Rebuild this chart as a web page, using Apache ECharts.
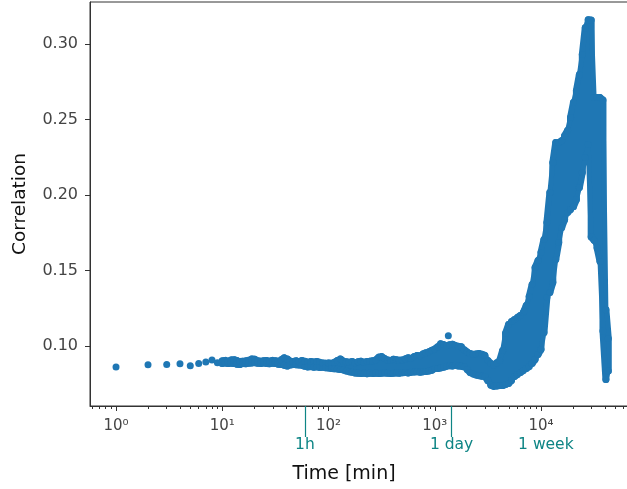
<!DOCTYPE html>
<html>
<head>
<meta charset="utf-8">
<script src="https://cdn.jsdelivr.net/npm/echarts@6/dist/echarts.min.js"></script>
<style>
html,body{margin:0;padding:0;background:#ffffff;}
#chart{width:627px;height:489px;}
</style>
</head>
<body>
<div id="chart"></div>
<script>
// ---------------- data ----------------
// isolated early points (time in minutes, correlation)
const earlyTimes = [1, 2, 3, 4, 5, 6, 7, 8, 9];
const earlyCorr  = [0.0862, 0.0876, 0.0878, 0.0882, 0.0869, 0.0884, 0.0895, 0.0908, 0.0889];

// dense part: for each time column, lowest and highest point of the scatter cloud
const bandTimes = [
  10, 10.66, 11.36, 12.12, 12.92, 13.77, 14.68, 15.65, 16.68, 17.78, 18.96, 20.21,
  21.54, 22.97, 24.48, 26.10, 27.83, 29.67, 31.62, 33.71, 35.94, 38.31, 40.84, 43.54,
  46.42, 49.49, 52.75, 56.23, 59.95, 63.91, 68.13, 72.64, 77.43, 82.54, 87.99, 93.81,
  100, 106.6, 113.6, 121.2, 129.2, 137.7, 146.8, 156.5, 166.8, 177.8, 189.6, 202.1,
  215.4, 229.7, 244.8, 261.0, 278.3, 296.7, 316.2, 337.1, 359.4, 383.1, 408.4, 435.4,
  464.2, 494.9, 527.5, 562.3, 599.5, 639.1, 681.3, 726.4, 774.3, 825.4, 879.9, 938.1,
  1000, 1066, 1136, 1212, 1292, 1377, 1468, 1565, 1668, 1778, 1896, 2021,
  2154, 2297, 2448, 2610, 2783, 2967, 3162, 3371, 3594, 3831, 4084, 4354,
  4642, 4949, 5275, 5623, 5995, 6391, 6813, 7264, 7743, 8254, 8799, 9381,
  10000, 10660, 11360, 12120, 12920, 13770, 14680, 15650, 16680, 17780, 18960, 20210,
  21540, 22970, 24480, 26100, 27830, 29670, 31620, 33710, 35940, 38310, 40840, 43000
];
const bandLow = [
  0.0885, 0.0888, 0.0884, 0.0886, 0.0884, 0.0880, 0.0878, 0.0885, 0.0883, 0.0886, 0.0887, 0.0890,
  0.0886, 0.0884, 0.0887, 0.0885, 0.0883, 0.0886, 0.0884, 0.0880, 0.0878, 0.0872, 0.0868, 0.0874,
  0.0878, 0.0876, 0.0874, 0.0872, 0.0866, 0.0862, 0.0865, 0.0860, 0.0863, 0.0858, 0.0860, 0.0856,
  0.0855, 0.0852, 0.0850, 0.0848, 0.0845, 0.0842, 0.0835, 0.0830, 0.0826, 0.0822, 0.0820, 0.0818,
  0.0820, 0.0817, 0.0820, 0.0818, 0.0820, 0.0818, 0.0820, 0.0822, 0.0820, 0.0818, 0.0820, 0.0822,
  0.0820, 0.0823, 0.0825, 0.0822, 0.0826, 0.0828, 0.0830, 0.0826, 0.0830, 0.0832, 0.0834, 0.0840,
  0.0852, 0.0851, 0.0855, 0.0860, 0.0866, 0.0870, 0.0868, 0.0872, 0.0868, 0.0866, 0.0862, 0.0845,
  0.0825, 0.0815, 0.0808, 0.0804, 0.0800, 0.0798, 0.0770, 0.0740, 0.0733, 0.0736, 0.0738, 0.0738,
  0.0745, 0.0752, 0.0772, 0.0798, 0.0811, 0.0825, 0.0838, 0.0851, 0.0864, 0.0884, 0.0911, 0.0944,
  0.0977, 0.1089, 0.1321, 0.1354, 0.1420, 0.1573, 0.1685, 0.1784, 0.1837, 0.1884, 0.1904, 0.1923,
  0.1970, 0.2049, 0.2149, 0.2248, 0.2334, 0.1722, 0.1700, 0.1650, 0.1560, 0.1100, 0.0778, 0.0835
];
const bandHigh = [
  0.0902, 0.0905, 0.0900, 0.0908, 0.0910, 0.0904, 0.0897, 0.0899, 0.0902, 0.0906, 0.0915, 0.0912,
  0.0903, 0.0900, 0.0902, 0.0904, 0.0900, 0.0905, 0.0902, 0.0900, 0.0910, 0.0922, 0.0915, 0.0900,
  0.0898, 0.0902, 0.0896, 0.0904, 0.0899, 0.0893, 0.0897, 0.0895, 0.0898, 0.0892, 0.0888, 0.0886,
  0.0888, 0.0886, 0.0892, 0.0905, 0.0915, 0.0900, 0.0896, 0.0893, 0.0898, 0.0890, 0.0896, 0.0899,
  0.0893, 0.0897, 0.0900, 0.0903, 0.0908, 0.0926, 0.0930, 0.0918, 0.0908, 0.0905, 0.0912, 0.0910,
  0.0906, 0.0908, 0.0915, 0.0922, 0.0918, 0.0930, 0.0938, 0.0935, 0.0948, 0.0955, 0.0962, 0.0972,
  0.0980, 0.0995, 0.1015, 0.1010, 0.1002, 0.1008, 0.1012, 0.1004, 0.0998, 0.0995, 0.0975, 0.0960,
  0.0950, 0.0945, 0.0948, 0.0950, 0.0945, 0.0938, 0.0905, 0.0885, 0.0875, 0.0890, 0.0905, 0.0970,
  0.1085, 0.1142, 0.1162, 0.1175, 0.1189, 0.1202, 0.1222, 0.1268, 0.1328, 0.1407, 0.1520, 0.1566,
  0.1619, 0.1705, 0.1818, 0.2016, 0.2215, 0.2347, 0.2347, 0.2360, 0.2393, 0.2427, 0.2513, 0.2612,
  0.2691, 0.2797, 0.2930, 0.3108, 0.3161, 0.3158, 0.2645, 0.2645, 0.2645, 0.2629, 0.1240, 0.1050
];

// a few detached points above the cloud
const outlierTimes = [1342, 6966];
const outlierCorr  = [0.1068, 0.1234];

// axis ticks / labels
const yTickValues = [0.10, 0.15, 0.20, 0.25, 0.30];
const xMajorExponents = [0, 1, 2, 3, 4];
const xMajorLabels = ['10\u2070', '10\u00b9', '10\u00b2', '10\u00b3', '10\u2074'];

// time markers under the axis
const markerTimes  = [60, 1440, 10080];
const markerLabels = ['1h', '1 day', '1 week'];
const markerHasLine = [true, true, false];

// ---------------- build chart ----------------
const BLUE = '#1f77b4';
const TEAL = '#0e8585';
const FONT = 'DejaVu Sans';
const XMIN = -0.245, XMAX = 4.866;   // log10(minutes) range of the axes box
const YMIN = 0.0603, YMAX = 0.3278;
const L = Math.log10;

const zig = [];
bandTimes.forEach((t, i) => {
  const lo = [L(t), bandLow[i]], hi = [L(t), bandHigh[i]];
  if (i % 2 === 0) { zig.push(lo, hi); } else { zig.push(hi, lo); }
});
const upperEdge = bandTimes.map((t, i) => [L(t), bandHigh[i]]);
const lowerEdge = bandTimes.map((t, i) => [L(t), bandLow[i]]);
const dots = zig.slice();
earlyTimes.forEach((t, i) => dots.push([L(t), earlyCorr[i]]));
outlierTimes.forEach((t, i) => dots.push([L(t), outlierCorr[i]]));

const minorVals = [];
for (let d = -1; d <= 4; d++) {
  for (let k = 2; k <= 9; k++) {
    const v = d + L(k);
    if (v > XMIN && v < XMAX) minorVals.push(v);
  }
}
const markerVals = markerTimes.map(L);
const markerLineVals = markerVals.filter((v, i) => markerHasLine[i]);

const baseX = {
  type: 'value', min: XMIN, max: XMAX, position: 'bottom', offset: 0,
  splitLine: { show: false }
};

const lineSeries = (data, width) => ({
  type: 'line', xAxisIndex: 0, data: data,
  showSymbol: false, symbol: 'none', smooth: false,
  lineStyle: { color: BLUE, width: width, join: 'round', cap: 'round' },
  silent: true, z: 2
});

const chart = echarts.init(document.getElementById('chart'), null, { renderer: 'canvas' });
chart.setOption({
  animation: false,
  backgroundColor: '#ffffff',
  grid: {
    left: 90, right: -6, top: 2, bottom: 83,
    show: true, borderColor: '#333333', borderWidth: 1,
    containLabel: false, outerBoundsMode: 'none'
  },
  xAxis: [
    Object.assign({}, baseX, {
      axisLine: { show: true, onZero: false, lineStyle: { color: '#333333', width: 1 } },
      axisTick: { show: true, customValues: xMajorExponents, length: 5, lineStyle: { color: '#333333', width: 1 } },
      axisLabel: {
        show: true, customValues: xMajorExponents, margin: 13,
        fontFamily: FONT, fontSize: 15, color: '#444444',
        formatter: v => xMajorLabels[Math.round(v)]
      },
      name: 'Time [min]', nameLocation: 'middle', nameGap: 59,
      nameTextStyle: { fontFamily: FONT, fontSize: 19, color: '#111111', padding: [0, 35, 0, 0] }
    }),
    Object.assign({}, baseX, {
      axisLine: { show: false, onZero: false },
      axisTick: { show: true, customValues: minorVals, length: 3, lineStyle: { color: '#333333', width: 1 } },
      axisLabel: { show: false }
    }),
    Object.assign({}, baseX, {
      axisLine: { show: false, onZero: false },
      axisTick: { show: true, customValues: markerLineVals, length: 31, lineStyle: { color: TEAL, width: 1.2 } },
      axisLabel: {
        show: true, customValues: markerVals, margin: 31,
        fontFamily: FONT, fontSize: 15.5, color: TEAL,
        formatter: v => {
          const i = markerVals.findIndex(m => Math.abs(m - v) < 1e-6);
          if (i < 0) return '';
          return i === 2 ? '{w|' + markerLabels[i] + '}' : markerLabels[i];
        },
        rich: { w: { fontFamily: FONT, fontSize: 15.5, color: TEAL, padding: [0, 0, 0, 9] } }
      }
    })
  ],
  yAxis: {
    type: 'value', min: YMIN, max: YMAX,
    axisLine: { show: true, onZero: false, lineStyle: { color: '#333333', width: 1 } },
    axisTick: { show: true, customValues: yTickValues, length: 5, lineStyle: { color: '#333333', width: 1 } },
    axisLabel: {
      show: true, customValues: yTickValues, margin: 12,
      fontFamily: FONT, fontSize: 16, color: '#444444',
      formatter: v => v.toFixed(2)
    },
    splitLine: { show: false },
    name: 'Correlation', nameLocation: 'middle', nameGap: 60,
    nameTextStyle: { fontFamily: FONT, fontSize: 18.5, color: '#111111' }
  },
  series: [
    lineSeries(zig, 7),
    lineSeries(upperEdge, 5),
    lineSeries(lowerEdge, 5),
    {
      type: 'scatter', xAxisIndex: 0, data: dots,
      symbol: 'circle', symbolSize: 7,
      itemStyle: { color: BLUE, opacity: 1 },
      silent: true, z: 3
    }
  ]
});
</script>
</body>
</html>
